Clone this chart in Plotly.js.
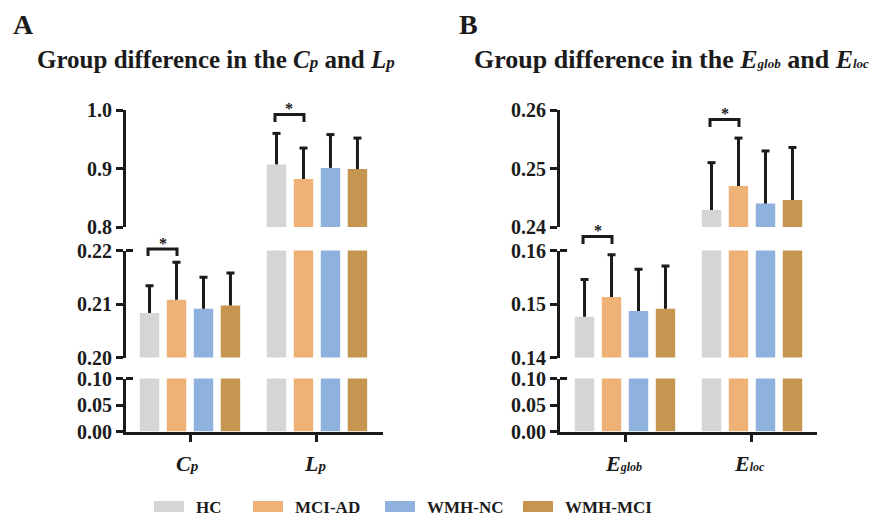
<!DOCTYPE html>
<html><head><meta charset="utf-8">
<script src="https://cdn.plot.ly/plotly-3.0.1.min.js"></script>
<style>html,body{margin:0;padding:0;background:#fff}#chart{width:875px;height:518px}</style>
</head><body><div id="chart"></div>
<script>
// ---------- data ----------
const groups = ['HC', 'MCI-AD', 'WMH-NC', 'WMH-MCI'];
const colors = ['#D4D5D4', '#EEB277', '#8FB1DD', '#C6954F'];

const catsA = ['Cp', 'Lp'];
const catLabelsA = ['<i>C</i><span style="font-size:15px"><i>p</i></span>',
                    '<i>L</i><span style="font-size:15px"><i>p</i></span>'];
const cpMean = [0.2083, 0.2108, 0.2091, 0.2097];
const cpSD   = [0.0051, 0.0070, 0.0059, 0.0061];
const lpMean = [0.907, 0.882, 0.901, 0.899];
const lpSD   = [0.053, 0.053, 0.057, 0.053];

const catsB = ['Eglob', 'Eloc'];
const catLabelsB = ['<i>E</i><span style="font-size:12px"><i>glob</i></span>',
                    '<i>E</i><span style="font-size:12px"><i>loc</i></span>'];
const eglobMean = [0.1476, 0.1513, 0.1487, 0.1491];
const eglobSD   = [0.0070, 0.0079, 0.0078, 0.0080];
const elocMean  = [0.2429, 0.2470, 0.2440, 0.2446];
const elocSD    = [0.0081, 0.0082, 0.0090, 0.0090];

const segRangesA = [[0, 0.10], [0.20, 0.22], [0.80, 1.00]];
const segTicksA  = [[0, 0.05, 0.10], [0.20, 0.21, 0.22], [0.8, 0.9, 1.0]];
const segFmtA    = ['.2f', '.2f', '.1f'];
const segRangesB = [[0, 0.10], [0.14, 0.16], [0.24, 0.26]];
const segTicksB  = [[0, 0.05, 0.10], [0.14, 0.15, 0.16], [0.24, 0.25, 0.26]];
const segFmtB    = ['.2f', '.2f', '.2f'];

const titleA = 'Group difference in the <i>C</i><span style="font-size:17px"><i>p</i></span> and <i>L</i><span style="font-size:17px"><i>p</i></span>';
const titleB = 'Group difference in the <i>E</i><span style="font-size:13px"><i>glob</i></span> and <i>E</i><span style="font-size:13px"><i>loc</i></span>';

// ---------- layout helpers ----------
const W = 875, H = 518;
const fx = p => p / W;
const fy = p => 1 - p / H;
const INK = '#1b1b1b';
const FONT = 'Liberation Serif, Times New Roman, serif';
const BARGAP = 0.15, BARGROUPGAP = 0.28;
const SLOT = (1 - BARGAP) / groups.length;
const segPx = [[431.5, 378.5], [357.5, 250.5], [227, 110]];

const panels = [
  { xa: 'x', xkey: 'xaxis', ya: ['y', 'y2', 'y3'], ykeys: ['yaxis', 'yaxis2', 'yaxis3'],
    xpx: [126, 383], xrange: [-0.504, 1.520], cats: catsA, labels: catLabelsA,
    means: [cpMean, lpMean], sds: [cpSD, lpSD], ranges: segRangesA, ticks: segTicksA, fmts: segFmtA },
  { xa: 'x2', xkey: 'xaxis2', ya: ['y4', 'y5', 'y6'], ykeys: ['yaxis4', 'yaxis5', 'yaxis6'],
    xpx: [560, 817], xrange: [-0.512, 1.512], cats: catsB, labels: catLabelsB,
    means: [eglobMean, elocMean], sds: [eglobSD, elocSD], ranges: segRangesB, ticks: segTicksB, fmts: segFmtB }
];

const traces = [];
const layout = {
  width: W, height: H, margin: {l: 0, r: 0, t: 0, b: 0},
  paper_bgcolor: '#fff', plot_bgcolor: 'rgba(0,0,0,0)',
  barmode: 'group', bargap: BARGAP, bargroupgap: BARGROUPGAP,
  showlegend: false, shapes: [], annotations: [],
  font: {family: FONT, color: INK}
};

panels.forEach(P => {
  const segOf = P.cats.map((c, ci) => {
    const v = P.means[ci][0];
    return P.ranges.findIndex(r => v >= r[0] && v <= r[1]);
  });
  const xIdx = P.cats.map((c, ci) => ci);
  const xToPaper = v => fx(P.xpx[0] + (v - P.xrange[0]) / (P.xrange[1] - P.xrange[0]) * (P.xpx[1] - P.xpx[0]));

  layout[P.xkey] = {
    domain: [fx(P.xpx[0]), fx(P.xpx[1])], range: P.xrange, type: 'linear',
    anchor: P.ya[0], showline: true, linewidth: 3, linecolor: INK,
    ticks: 'outside', ticklen: 7, tickwidth: 3, tickcolor: INK,
    tickvals: xIdx, showticklabels: false, showgrid: false, zeroline: false, fixedrange: true
  };

  P.ya.forEach((ya, s) => {
    layout[P.ykeys[s]] = {
      domain: [fy(segPx[s][0]), fy(segPx[s][1])], range: P.ranges[s],
      anchor: P.xa, showline: true, linewidth: 3, linecolor: INK,
      ticks: 'outside', ticklen: 7, tickwidth: 3, tickcolor: INK,
      tickvals: P.ticks[s], tickformat: P.fmts[s],
      tickfont: {family: FONT, size: 20, color: INK, weight: 'bold'},
      showgrid: false, zeroline: false, fixedrange: true
    };
    groups.forEach((g, gi) => {
      traces.push({
        type: 'bar', name: g, xaxis: P.xa, yaxis: ya, x: xIdx,
        y: P.cats.map((c, ci) => segOf[ci] >= s ? P.means[ci][gi] : null),
        marker: {color: colors[gi], line: {width: 0}},
        hoverinfo: 'skip', showlegend: false
      });
    });
    groups.forEach((g, gi) => {
      const ex = [], ey = [];
      const capW = 4 / ((P.xpx[1] - P.xpx[0]) / (P.xrange[1] - P.xrange[0]));
      P.cats.forEach((c, ci) => {
        if (segOf[ci] !== s) return;
        const xc = ci + (gi - (groups.length - 1) / 2) * SLOT;
        const m = P.means[ci][gi], top = m + P.sds[ci][gi];
        ex.push(xc, xc, null, xc - capW, xc + capW, null);
        ey.push(m, top, null, top, top, null);
      });
      if (ex.length) traces.push({
        type: 'scatter', mode: 'lines', xaxis: P.xa, yaxis: ya, x: ex, y: ey,
        line: {color: INK, width: 3}, hoverinfo: 'skip', showlegend: false
      });
    });
    if (s < P.ya.length - 1) {
      layout.shapes.push({type: 'line', xref: 'paper', yref: 'paper',
        x0: fx(P.xpx[0]), x1: fx(P.xpx[0] + 7), y0: fy(segPx[s][1]), y1: fy(segPx[s][1]),
        line: {color: INK, width: 3}});
    }
  });

  // category labels under the ticks
  P.cats.forEach((c, ci) => {
    layout.annotations.push({
      xref: 'paper', yref: 'paper', x: xToPaper(ci) - fx(2), y: fy(463),
      text: P.labels[ci], showarrow: false,
      xanchor: 'center', yanchor: 'middle',
      font: {family: FONT, size: 22, color: INK, weight: 'bold'}
    });
  });
  P.xToPaper = xToPaper;
});

// significance brackets (HC vs MCI-AD): [panel, category, bracket y px, leg y px]
const brackets = [[0, 0, 249, 256], [0, 1, 114.5, 122], [1, 0, 236.5, 244], [1, 1, 119.5, 127]];
brackets.forEach(([pi, ci, yTop, yLeg]) => {
  const P = panels[pi];
  const x0 = P.xToPaper(ci - 1.5 * SLOT) - fx(1.5);
  const x1 = P.xToPaper(ci - 0.5 * SLOT) + fx(0.5);
  layout.shapes.push({type: 'path', xref: 'paper', yref: 'paper',
    path: `M${x0},${fy(yLeg)} L${x0},${fy(yTop)} L${x1},${fy(yTop)} L${x1},${fy(yLeg)}`,
    line: {color: INK, width: 3}});
  layout.annotations.push({xref: 'paper', yref: 'paper', x: (x0 + x1) / 2, y: fy(yTop - 6),
    text: '*', showarrow: false, xanchor: 'center', yanchor: 'middle',
    font: {family: FONT, size: 16, color: INK, weight: 'bold'}});
});

layout.annotations.push(
  {xref: 'paper', yref: 'paper', x: fx(11), y: fy(24), text: 'A', showarrow: false,
   xanchor: 'left', yanchor: 'middle', font: {family: FONT, size: 28, color: INK, weight: 'bold'}},
  {xref: 'paper', yref: 'paper', x: fx(457), y: fy(24), text: 'B', showarrow: false,
   xanchor: 'left', yanchor: 'middle', font: {family: FONT, size: 28, color: INK, weight: 'bold'}},
  {xref: 'paper', yref: 'paper', x: fx(35), y: fy(59), text: titleA, showarrow: false,
   xanchor: 'left', yanchor: 'middle', font: {family: FONT, size: 25, color: INK, weight: 'bold'}},
  {xref: 'paper', yref: 'paper', x: fx(472), y: fy(59), text: titleB, showarrow: false,
   xanchor: 'left', yanchor: 'middle', font: {family: FONT, size: 26, color: INK, weight: 'bold'}}
);

const legendX = [154, 253, 385, 523];
groups.forEach((g, gi) => {
  layout.shapes.push({type: 'rect', xref: 'paper', yref: 'paper',
    x0: fx(legendX[gi]), x1: fx(legendX[gi] + 30), y0: fy(512), y1: fy(501),
    fillcolor: colors[gi], line: {width: 0}});
  layout.annotations.push({xref: 'paper', yref: 'paper', x: fx(legendX[gi] + 40), y: fy(507.5),
    text: g, showarrow: false, xanchor: 'left', yanchor: 'middle',
    font: {family: FONT, size: 17, color: INK, weight: 'bold'}});
});

Plotly.newPlot('chart', traces, layout, {displayModeBar: false});
</script>
</body></html>
